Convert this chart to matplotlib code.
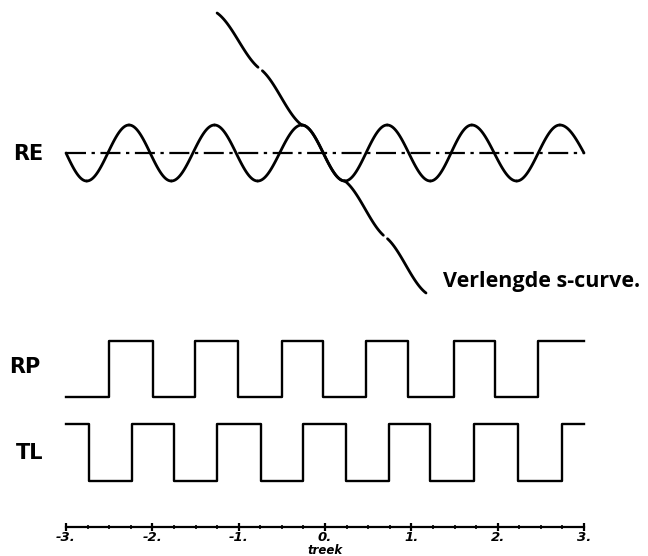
import numpy as np
import matplotlib
matplotlib.use("Agg")
import matplotlib.pyplot as plt

# --- values (time axis runs from -3 to 3) ---
# RE: sine wave, turning points (x) and their level; it starts and ends on the baseline
re_x = [-3.0, -2.76, -2.27, -1.78, -1.28, -0.78, -0.27, 0.23, 0.72, 1.22, 1.70, 2.22, 2.72, 3.0]
re_y = [0, -1, 1, -1, 1, -1, 1, -1, 1, -1, 1, -1, 1, 0]

# extended s-curve: chained descending half waves (knots in units of sine amplitude)
s_x = [-1.25, -0.75, -0.27, 0.23, 0.70, 1.17]
s_y = [5, 3, 1, -1, -3, -5]

# RP starts low, TL starts high; switching times
rp_edges = [-2.50, -1.99, -1.51, -1.01, -0.50, -0.02, 0.48, 0.96, 1.49, 1.97, 2.47]
tl_edges = [-2.73, -2.23, -1.75, -1.25, -0.74, -0.26, 0.24, 0.74, 1.22, 1.73, 2.23, 2.74]

tick_vals = [-3, -2, -1, 0, 1, 2, 3]
tick_labels = ["-3.", "-2.", "-1.", "0.", "1.", "2.", "3."]
trace_labels = ["RE", "RP", "TL"]

# --- layout (pixels) ---
W, H = 648, 556
X0, X1 = 66, 584          # pixel position of -3 and 3
ppu = (X1 - X0) / 6.0
AMP = 28                  # sine amplitude in px
RE_Y = 153
RP_HI, RP_LO = 341, 397
TL_HI, TL_LO = 424, 481
AX_Y = 527


def px2x(px):
    return -3 + (px - X0) / ppu


def wave_pieces(xk, yk, n=40, bend=1.0):
    """sine-shaped pieces between consecutive knots"""
    if np.isscalar(bend):
        bend = [bend] * (len(xk) - 1)
    pieces = []
    for i in range(len(xk) - 1):
        u = np.linspace(0, 1, n)
        xs = xk[i] + (xk[i + 1] - xk[i]) * u
        a, b = yk[i], yk[i + 1]
        if a == 0:
            ys = b * np.sin(np.pi * u / 2)
        elif b == 0:
            ys = a * np.cos(np.pi * u / 2)
        else:
            ease = (1 - np.cos(np.pi * u)) / 2
            ys = a + (b - a) * (bend[i] * ease + (1 - bend[i]) * u)
        pieces.append((xs, ys))
    return pieces


fig = plt.figure(figsize=(W / 100, H / 100), dpi=100)
ax = fig.add_axes([0, 0, 1, 1])
ax.set_xlim(px2x(0), px2x(W))
ax.set_ylim(H, 0)
ax.axis("off")

ink = "black"

# RE sine + dash-dot baseline
for xs, ys in wave_pieces(re_x, re_y):
    ax.plot(xs, RE_Y - AMP * ys, color=ink, lw=2.0, solid_capstyle="round")
ax.plot([-3, 3], [RE_Y, RE_Y], color=ink, lw=1.6,
        linestyle=(0, (9, 2.5, 1.5, 2.5)))

# s-curve, drawn as separate strokes with small pen breaks;
# the middle stroke runs along the sine itself
bends = [0.45, 0.45, 1.0, 0.45, 0.45]
for i, (xs, ys) in enumerate(wave_pieces(s_x, s_y, bend=bends)):
    if i in (0, 3):
        xs, ys = xs[:-2], ys[:-2]
    if i in (1, 4):
        xs, ys = xs[2:], ys[2:]
    ax.plot(xs, RE_Y - AMP * ys, color=ink, lw=2.0, solid_capstyle="round")

ax.text(px2x(443), 282, "Verlengde s-curve.", fontsize=15.5,
        family="Open Sans", fontweight="bold", va="center", ha="left")

# square waves
def square(edges, start_high, hi, lo):
    xs = [-3.0] + edges + [3.0]
    lv = []
    state = start_high
    for _ in range(len(edges) + 1):
        lv.append(hi if state else lo)
        state = not state
    lv.append(lv[-1])
    return xs, lv

xs, ys = square(rp_edges, False, RP_HI, RP_LO)
ax.plot(xs, ys, drawstyle="steps-post", color=ink, lw=1.7)
xs, ys = square(tl_edges, True, TL_HI, TL_LO)
ax.plot(xs, ys, drawstyle="steps-post", color=ink, lw=1.7)

for lab, px, y in zip(trace_labels, [13, 9, 16], [RE_Y + 1, 367, 453]):
    ax.text(px2x(px), y, lab, fontsize=15, fontweight="bold", family="DejaVu Sans",
            va="center", ha="left")

# time scale
sax = fig.add_axes([X0 / W, 1 - AX_Y / H, (X1 - X0) / W, 0.0001])
sax.set_xlim(-3, 3)
sax.set_yticks([])
for s in ("left", "right", "top"):
    sax.spines[s].set_visible(False)
sax.spines["bottom"].set_linewidth(1.6)
sax.set_xticks(tick_vals)
sax.set_xticklabels(tick_labels, fontsize=9.5, fontweight="bold", fontstyle="italic")
sax.set_xticks(np.arange(-3, 3.01, 0.25), minor=True)
sax.tick_params(which="major", direction="inout", length=6, width=1.6, pad=0)
sax.tick_params(which="minor", direction="inout", length=3, width=1.2)
sax.set_xlabel("treek", fontsize=8.5, fontweight="bold", fontstyle="italic", labelpad=0)

fig.savefig("out.png", dpi=100)
